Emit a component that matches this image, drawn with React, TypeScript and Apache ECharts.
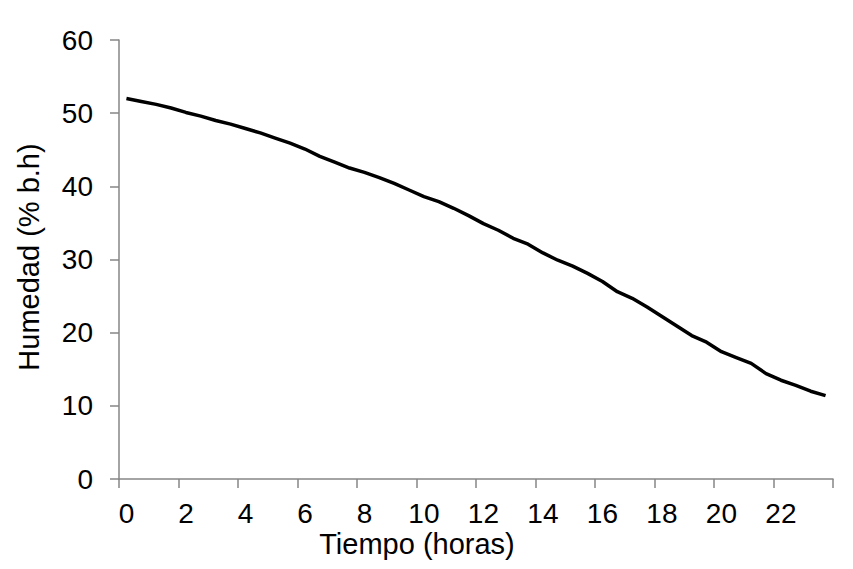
import React, { useEffect, useRef } from "react";
import * as echarts from "echarts";

const hours: string[] = [
  "0", "0.5", "1", "1.5", "2", "2.5", "3", "3.5", "4", "4.5", "5", "5.5",
  "6", "6.5", "7", "7.5", "8", "8.5", "9", "9.5", "10", "10.5", "11", "11.5",
  "12", "12.5", "13", "13.5", "14", "14.5", "15", "15.5", "16", "16.5", "17", "17.5",
  "18", "18.5", "19", "19.5", "20", "20.5", "21", "21.5", "22", "22.5", "23", "23.5",
];

const humedad: number[] = [
  52.0, 51.6, 51.2, 50.7, 50.1, 49.6, 49.0, 48.5, 47.9, 47.3, 46.6, 45.9,
  45.1, 44.1, 43.3, 42.5, 41.9, 41.2, 40.4, 39.5, 38.6, 37.9, 37.0, 36.0,
  34.9, 34.0, 32.9, 32.1, 30.9, 29.9, 29.1, 28.1, 27.0, 25.6, 24.7, 23.5,
  22.2, 20.9, 19.6, 18.7, 17.4, 16.6, 15.8, 14.4, 13.5, 12.8, 12.0, 11.4,
];

const xTitle = "Tiempo (horas)";
const yTitle = "Humedad (% b.h)";

const FONT = "'Liberation Sans', Arial, sans-serif";
const AXIS_COLOR = "#868686";

export default function App() {
  const ref = useRef<HTMLDivElement>(null);

  useEffect(() => {
    document.body.style.margin = "0";
    if (!ref.current) return;
    const chart = echarts.init(ref.current, null, { renderer: "svg" });
    chart.setOption({
      animation: false,
      backgroundColor: "#ffffff",
      grid: { left: 119, right: 20, top: 40, bottom: 90, containLabel: false },
      xAxis: {
        type: "category",
        data: hours,
        boundaryGap: true,
        axisLine: { show: true, lineStyle: { color: AXIS_COLOR, width: 1.5 } },
        axisTick: { show: true, interval: 3, length: 9, lineStyle: { color: AXIS_COLOR, width: 1.5 } },
        axisLabel: {
          interval: 3,
          color: "#000",
          fontSize: 28,
          fontFamily: FONT,
          margin: 20,
        },
        splitLine: { show: false },
      },
      yAxis: {
        type: "value",
        min: 0,
        max: 60,
        interval: 10,
        axisLine: { show: true, lineStyle: { color: AXIS_COLOR, width: 1.5 } },
        axisTick: { show: true, length: 9, lineStyle: { color: AXIS_COLOR, width: 1.5 } },
        axisLabel: {
          color: "#000",
          fontSize: 28,
          fontFamily: FONT,
          margin: 26,
        },
        splitLine: { show: false },
      },
      graphic: [
        {
          type: "text",
          x: 417,
          y: 544,
          style: {
            text: xTitle,
            fontSize: 29,
            fontFamily: FONT,
            fill: "#000",
            align: "center",
            verticalAlign: "middle",
          },
        },
        {
          type: "text",
          x: 29,
          y: 257,
          rotation: Math.PI / 2,
          style: {
            text: yTitle,
            fontSize: 29,
            fontFamily: FONT,
            fill: "#000",
            align: "center",
            verticalAlign: "middle",
          },
        },
      ],
      series: [
        {
          type: "line",
          data: humedad,
          symbol: "none",
          smooth: false,
          lineStyle: { color: "#000", width: 3.5 },
        },
      ],
    });
    return () => chart.dispose();
  }, []);

  return <div ref={ref} style={{ width: 853, height: 569 }} />;
}
